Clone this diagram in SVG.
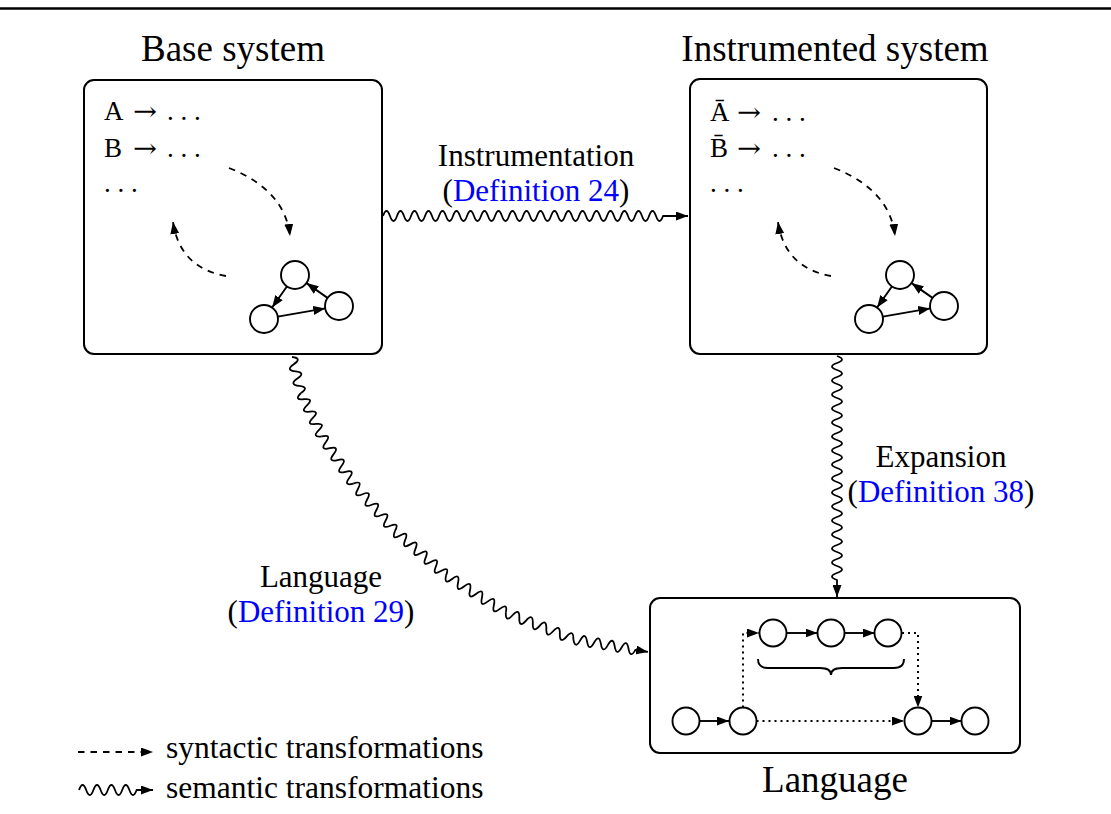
<svg xmlns="http://www.w3.org/2000/svg" xmlns:xlink="http://www.w3.org/1999/xlink" width="1111" height="814" viewBox="0 0 1111 814">
  <style>
    text { font-family: "Liberation Serif", "Times New Roman", serif; fill: #000; }
    .title { font-size: 37px; text-anchor: middle; }
    .label { font-size: 31px; text-anchor: middle; }
    .rule { font-size: 27px; }
    .arr { font-family: "DejaVu Serif", "Liberation Serif", serif; font-size: 26px; }
    .legend { font-size: 31.5px; }
    .ref { fill: #0000ff; }
    .box { fill: #fff; stroke: #000; stroke-width: 2; }
    .st { fill: #fff; stroke: #000; stroke-width: 1.9; }
    .edge { fill: none; stroke: #000; stroke-width: 1.9; marker-end: url(#tip); }
    .dash { fill: none; stroke: #000; stroke-width: 1.8; stroke-dasharray: 6.5 6; marker-end: url(#tip); }
    .dot { fill: none; stroke: #000; stroke-width: 2; stroke-dasharray: 2 4; }
    .wave { fill: none; stroke: #000; stroke-width: 1.8; stroke-linejoin: round; }
  </style>
  <defs>
    <marker id="tip" viewBox="0 0 12 9" refX="12" refY="4.5" markerWidth="12" markerHeight="9" markerUnits="userSpaceOnUse" orient="auto">
      <path d="M0,0 L12,4.5 L0,9 Z" fill="#000"/>
    </marker>
    <!-- three-state transition graph drawn inside each system box -->
    <g id="tri">
      <path class="edge" d="M286.9,286.5 L272.1,307.5"/>
      <path class="edge" d="M327.5,297.9 L306.5,283.1"/>
      <path class="edge" d="M277.8,316.6 L325.2,308.4"/>
      <circle class="st" cx="295" cy="275" r="14"/>
      <circle class="st" cx="264" cy="319" r="14"/>
      <circle class="st" cx="339" cy="306" r="14"/>
      <path class="dash" d="M229,168 Q285,190 290,236"/>
      <path class="dash" d="M226,276 Q180,268 173,222"/>
    </g>
  </defs>

  <!-- top rule -->
  <line x1="0" y1="8.5" x2="1111" y2="8.5" stroke="#000" stroke-width="2.5"/>

  <!-- connectors -->
  <g id="connectors">
    <!-- instrumentation: base -> instrumented -->
    <path class="wave" marker-end="url(#tip)" d="M383,216 q3.5,-10 7,0 t7,0 t7,0 t7,0 t7,0 t7,0 t7,0 t7,0 t7,0 t7,0 t7,0 t7,0 t7,0 t7,0 t7,0 t7,0 t7,0 t7,0 t7,0 t7,0 t7,0 t7,0 t7,0 t7,0 t7,0 t7,0 t7,0 t7,0 t7,0 t7,0 t7,0 t7,0 t7,0 t7,0 t7,0 t7,0 t7,0 t7,0 t7,0 t7,0 L688,216"/>
    <!-- expansion: instrumented -> language -->
    <path class="wave" marker-end="url(#tip)" d="M837,356 q10,3.5 0,7 t0,7 t0,7 t0,7 t0,7 t0,7 t0,7 t0,7 t0,7 t0,7 t0,7 t0,7 t0,7 t0,7 t0,7 t0,7 t0,7 t0,7 t0,7 t0,7 t0,7 t0,7 t0,7 t0,7 t0,7 t0,7 t0,7 t0,7 t0,7 t0,7 t0,7 t0,7 L837,597"/>
    <!-- language: base -> language (snake along a curve, piecewise) -->
    <g id="edge-language" class="wave">
      <path transform="translate(292,357) rotate(76)" d="M0,0 q3.71,-10 7.42,0 t7.42,0 t7.42,0 t7.42,0 t7.42,0"/>
      <path transform="translate(301,393) rotate(64.4)" d="M0,0 q3.435,10 6.87,0 t6.87,0 t6.87,0 t6.87,0 t6.87,0 t6.87,0 t6.87,0"/>
      <path transform="translate(321.8,436.4) rotate(56.3)" d="M0,0 q3.55,-10 7.1,0 t7.1,0 t7.1,0 t7.1,0 t7.1,0 t7.1,0 t7.1,0 t7.1,0"/>
      <path transform="translate(353.3,483.7) rotate(48.7)" d="M0,0 q3.5,-10 7,0 t7,0 t7,0 t7,0 t7,0 t7,0 t7,0 t7,0 t7,0"/>
      <path transform="translate(395,531.1) rotate(40.9)" d="M0,0 q3.38,10 6.76,0 t6.76,0 t6.76,0 t6.76,0 t6.76,0 t6.76,0 t6.76,0 t6.76,0 t6.76,0 t6.76,0"/>
      <path transform="translate(446.1,575.3) rotate(32)" d="M0,0 q3.52,10 7.04,0 t7.04,0 t7.04,0 t7.04,0 t7.04,0 t7.04,0 t7.04,0 t7.04,0 t7.04,0 t7.04,0"/>
      <path transform="translate(505.8,612.6) rotate(21.5)" d="M0,0 q3.63,10 7.26,0 t7.26,0 t7.26,0 t7.26,0 t7.26,0 t7.26,0 t7.26,0 t7.26,0 t7.26,0 t7.26,0"/>
      <path transform="translate(573.3,639.2) rotate(9.7)" marker-end="url(#tip)" d="M0,0 q3.5,10 7,0 t7,0 t7,0 t7,0 t7,0 t7,0 t7,0 t7,0 t7,0 L75.8,0"/>
    </g>
  </g>

  <!-- connector labels -->
  <g id="label-instrumentation">
    <text class="label" x="536" y="166">Instrumentation</text>
    <text class="label" x="536" y="201">(<tspan class="ref">Definition 24</tspan>)</text>
  </g>
  <g id="label-expansion">
    <text class="label" x="941" y="467">Expansion</text>
    <text class="label" x="941" y="502">(<tspan class="ref">Definition 38</tspan>)</text>
  </g>
  <g id="label-language">
    <text class="label" x="321" y="587">Language</text>
    <text class="label" x="321" y="622">(<tspan class="ref">Definition 29</tspan>)</text>
  </g>

  <!-- base system -->
  <g id="base-system">
    <text class="title" x="233" y="61">Base system</text>
    <rect class="box" x="84" y="80" width="298" height="274" rx="10"/>
    <text class="rule" x="104" y="120">A</text>
    <text class="arr" x="133" y="120" textLength="24" lengthAdjust="spacingAndGlyphs">→</text>
    <text class="rule" x="167" y="120">. . .</text>
    <text class="rule" x="104" y="157">B</text>
    <text class="arr" x="133" y="157" textLength="24" lengthAdjust="spacingAndGlyphs">→</text>
    <text class="rule" x="167" y="157">. . .</text>
    <text class="rule" x="104" y="192">. . .</text>
    <use xlink:href="#tri"/>
  </g>

  <!-- instrumented system -->
  <g id="instrumented-system">
    <text class="title" x="835" y="61">Instrumented system</text>
    <rect class="box" x="690" y="79" width="297" height="275" rx="10"/>
    <text class="rule" x="710" y="121">Ā</text>
    <text class="arr" x="737" y="121" textLength="24" lengthAdjust="spacingAndGlyphs">→</text>
    <text class="rule" x="772" y="121">. . .</text>
    <text class="rule" x="710" y="157">B&#x304;</text>
    <text class="arr" x="737" y="157" textLength="24" lengthAdjust="spacingAndGlyphs">→</text>
    <text class="rule" x="772" y="157">. . .</text>
    <text class="rule" x="710" y="192">. . .</text>
    <use xlink:href="#tri" transform="translate(605,0)"/>
  </g>

  <!-- language -->
  <g id="language">
    <rect class="box" x="650" y="598" width="370" height="155" rx="10"/>
    <path class="edge" d="M699.5,721 L729,721"/>
    <path class="edge" d="M786.5,633 L817.5,633"/>
    <path class="edge" d="M844.5,633 L874.8,633"/>
    <path class="edge" d="M931.2,721 L961.5,721"/>
    <path class="dot" marker-end="url(#tip)" d="M743,707.5 V633 H759"/>
    <path class="dot" marker-end="url(#tip)" d="M902,633 H918 V707.5"/>
    <path class="dot" marker-end="url(#tip)" d="M756.5,721 H904"/>
    <path fill="none" stroke="#000" stroke-width="1.9" d="M758,659 C758,666 762,668 768,668 L820,668 C826,668 831,670 831,675 C831,670 836,668 842,668 L894,668 C900,668 904,666 904,659"/>
    <circle class="st" cx="686" cy="721" r="13.5"/>
    <circle class="st" cx="743" cy="721" r="13.5"/>
    <circle class="st" cx="918" cy="721" r="13.5"/>
    <circle class="st" cx="975" cy="721" r="13.5"/>
    <circle class="st" cx="773" cy="633" r="13.5"/>
    <circle class="st" cx="831" cy="633" r="13.5"/>
    <circle class="st" cx="888" cy="633" r="13.5"/>
    <text class="title" x="835" y="792">Language</text>
  </g>

  <!-- legend -->
  <g id="legend">
    <path class="dash" d="M78,752 L153,752"/>
    <path class="wave" marker-end="url(#tip)" d="M79,790 q3.6,-10 7.2,0 t7.2,0 t7.2,0 t7.2,0 t7.2,0 t7.2,0 t7.2,0 t7.2,0 L153,790"/>
    <text class="legend" x="166" y="758">syntactic transformations</text>
    <text class="legend" x="166" y="798">semantic transformations</text>
  </g>
</svg>
